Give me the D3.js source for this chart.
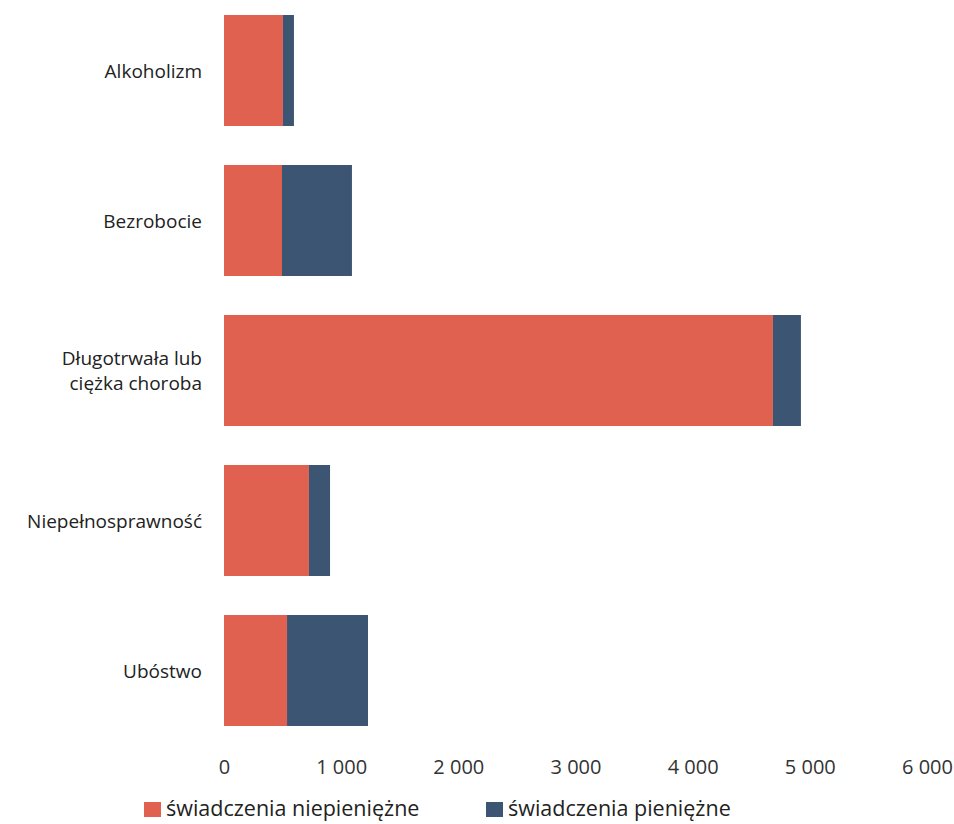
<!DOCTYPE html>
<html><head><meta charset="utf-8">
<script src="https://cdn.jsdelivr.net/npm/d3@7"></script>
<style>body{margin:0;background:#fff}svg{display:block}text{font-family:"Open Sans",sans-serif}</style>
</head><body>
<svg id="c" width="954" height="824"></svg>
<script>
const categories = [["Alkoholizm"], ["Bezrobocie"], ["Długotrwała lub", "ciężka choroba"], ["Niepełnosprawność"], ["Ubóstwo"]];
const niepieniezne = [503, 495, 4685, 725, 538];
const pieniezne = [94, 597, 239, 180, 691];
const ticks = [0, 1000, 2000, 3000, 4000, 5000, 6000];
const seriesNames = ["świadczenia niepieniężne", "świadczenia pieniężne"];
const colors = ["#e0614f", "#3b5572"];

const svg = d3.select("#c");
const x = d3.scaleLinear().domain([0, 6000]).range([224, 927]);
const y = d3.scaleBand().domain(d3.range(categories.length)).range([-4.5, 745.5]).paddingInner(0.26).paddingOuter(0.13);

const data = categories.map((c, i) => ({i, a: niepieniezne[i], b: pieniezne[i]}));
const stack = d3.stack().keys(["a", "b"])(data);

svg.append("g").selectAll("g").data(stack).join("g")
  .attr("fill", (d, k) => colors[k])
  .selectAll("rect").data(d => d).join("rect")
  .attr("x", d => x(d[0])).attr("width", d => x(d[1]) - x(d[0]))
  .attr("y", d => y(d.data.i)).attr("height", y.bandwidth());

// category labels
const lineH = 25;
const lab = svg.append("g").selectAll("text").data(categories).join("text")
  .attr("text-anchor", "end").attr("font-size", 19).attr("fill", "#222")
  .attr("x", 202)
  .attr("y", (d, i) => y(i) + y.bandwidth() / 2 - (d.length - 1) * lineH / 2 + 7);
lab.selectAll("tspan").data(d => d).join("tspan")
  .attr("x", 202).attr("dy", (t, j) => j ? lineH : 0).text(t => t);

// x axis
const fmt = v => d3.format(",")(v).replace(/,/g, " ");
const ax = svg.append("g").attr("transform", "translate(0,759)")
  .call(d3.axisBottom(x).tickValues(ticks).tickFormat(fmt).tickSize(0).tickPadding(0));
ax.select(".domain").remove();
ax.selectAll("text").attr("font-size", 20).attr("fill", "#333").attr("font-family", "Open Sans, sans-serif").attr("dy", "0.74em");

// legend
const leg = svg.append("g");
const lx = [144, 486];
seriesNames.forEach((n, k) => {
  leg.append("rect").attr("x", lx[k]).attr("y", 802).attr("width", 17).attr("height", 15).attr("fill", colors[k]);
  leg.append("text").attr("x", lx[k] + 22).attr("y", 816).attr("font-size", 21.5).attr("fill", "#222").text(n);
});
</script>
</body></html>
